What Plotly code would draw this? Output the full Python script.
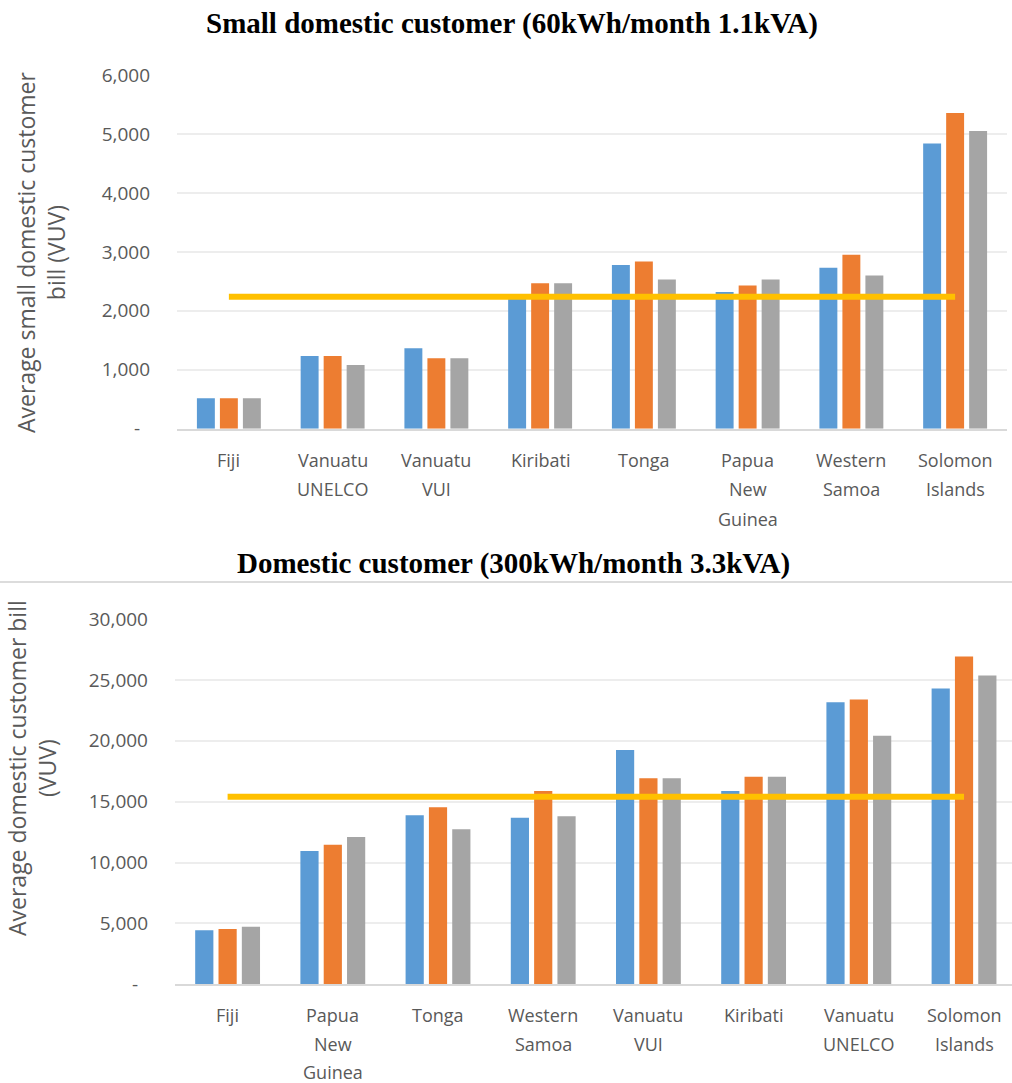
import plotly.graph_objects as go

# ---- Small domestic customer (60kWh/month 1.1kVA) ----
small_categories = ["Fiji", "Vanuatu UNELCO", "Vanuatu VUI", "Kiribati", "Tonga",
                    "Papua New Guinea", "Western Samoa", "Solomon Islands"]
small_labels = [["Fiji"], ["Vanuatu", "UNELCO"], ["Vanuatu", "VUI"], ["Kiribati"], ["Tonga"],
                ["Papua", "New", "Guinea"], ["Western", "Samoa"], ["Solomon", "Islands"]]
small_s1 = [515, 1232, 1363, 2200, 2775, 2317, 2729, 4837]
small_s2 = [515, 1232, 1193, 2469, 2837, 2430, 2949, 5356]
small_s3 = [515, 1080, 1193, 2469, 2532, 2532, 2600, 5051]
small_average = 2240
small_tickvals = [0, 1000, 2000, 3000, 4000, 5000, 6000]
small_ticktext = ["-\u00a0\u00a0", "1,000", "2,000", "3,000", "4,000", "5,000", "6,000"]

# ---- Domestic customer (300kWh/month 3.3kVA) ----
dom_categories = ["Fiji", "Papua New Guinea", "Tonga", "Western Samoa", "Vanuatu VUI",
                  "Kiribati", "Vanuatu UNELCO", "Solomon Islands"]
dom_labels = [["Fiji"], ["Papua", "New", "Guinea"], ["Tonga"], ["Western", "Samoa"],
              ["Vanuatu", "VUI"], ["Kiribati"], ["Vanuatu", "UNELCO"], ["Solomon", "Islands"]]
dom_s1 = [4433, 10944, 13875, 13679, 19236, 15870, 23153, 24302]
dom_s2 = [4540, 11461, 14532, 15870, 16913, 17044, 23399, 26929]
dom_s3 = [4730, 12094, 12726, 13793, 16913, 17044, 20411, 25369]
dom_average = 15400
dom_tickvals = [0, 5000, 10000, 15000, 20000, 25000, 30000]
dom_ticktext = ["-\u00a0\u00a0", "5,000", "10,000", "15,000", "20,000", "25,000", "30,000"]

series_names = ["Series 1", "Series 2", "Series 3"]
series_colors = ["#5B9BD5", "#ED7D31", "#A5A5A5"]
avg_color = "#FFC000"

W, H = 1012, 1083
TICK_FONT = dict(family="Open Sans", size=19, color="#595959")
CAT_FONT = dict(family="Open Sans", size=18, color="#595959")
TITLE_FONT = dict(family="Liberation Serif", size=29, color="#000000")
YT_FONT = dict(family="Open Sans", size=23, color="#595959")


def py(px):
    """Convert a pixel row (from top) to paper coordinates."""
    return 1 - px / H


def px_(x):
    return x / W


fig = go.Figure()

# top chart bars + average line
for name, vals, col in zip(series_names, [small_s1, small_s2, small_s3], series_colors):
    fig.add_trace(go.Bar(x=small_categories, y=vals, name=name, marker_color=col,
                         marker_line_width=0, xaxis="x", yaxis="y", showlegend=False))
fig.add_trace(go.Scatter(x=[small_categories[0], small_categories[-1]],
                         y=[small_average, small_average], mode="lines",
                         line=dict(color=avg_color, width=6), name="Average",
                         xaxis="x", yaxis="y", showlegend=False))

# bottom chart bars + average line
for name, vals, col in zip(series_names, [dom_s1, dom_s2, dom_s3], series_colors):
    fig.add_trace(go.Bar(x=dom_categories, y=vals, name=name, marker_color=col,
                         marker_line_width=0, xaxis="x2", yaxis="y2", showlegend=False))
fig.add_trace(go.Scatter(x=[dom_categories[0], dom_categories[-1]],
                         y=[dom_average, dom_average], mode="lines",
                         line=dict(color=avg_color, width=6), name="Average",
                         xaxis="x2", yaxis="y2", showlegend=False))

common_x = dict(type="category", showgrid=False, showline=True, linecolor="#D9D9D9",
                linewidth=2, ticks="", showticklabels=False, automargin=False,
                zeroline=False, fixedrange=True)
common_y = dict(showgrid=True, gridcolor="#EDEDED", gridwidth=2, showline=False,
                zeroline=False, ticks="", tickfont=TICK_FONT, ticklabelstandoff=26,
                automargin=False, fixedrange=True)

TOP_BASE, BOT_BASE = 428.7, 984.3

fig.update_layout(
    width=W, height=H,
    margin=dict(l=0, r=0, t=0, b=0, autoexpand=False),
    paper_bgcolor="white", plot_bgcolor="white",
    barmode="group", bargap=0.335, bargroupgap=0.22,
    showlegend=False,
    xaxis=dict(common_x, domain=[px_(177), px_(1007)], range=[-0.5, 7.5], anchor="y"),
    yaxis=dict(common_y, domain=[py(TOP_BASE), py(75)], range=[0, 6000],
               tickvals=small_tickvals, ticktext=small_ticktext, anchor="x"),
    xaxis2=dict(common_x, domain=[px_(175), 1.0], range=[-0.5, 7.456], anchor="y2"),
    yaxis2=dict(common_y, domain=[py(BOT_BASE), py(619)], range=[0, 30000],
                tickvals=dom_tickvals, ticktext=dom_ticktext, anchor="x2"),
)

# category labels, one line at a time for Excel-like line spacing
for xref, base, step, cats, labels in [("x", TOP_BASE, 29.5, small_categories, small_labels),
                                       ("x2", BOT_BASE, 28.5, dom_categories, dom_labels)]:
    for cat, lines in zip(cats, labels):
        for j, line in enumerate(lines):
            fig.add_annotation(text=line, xref=xref, yref="paper", x=cat,
                               y=py(base + 31 + step * j), showarrow=False,
                               font=CAT_FONT, xanchor="center", yanchor="middle")

# chart titles
fig.add_annotation(text="<b>Small domestic customer (60kWh/month 1.1kVA)</b>",
                   xref="paper", yref="paper", x=px_(512), y=py(23),
                   showarrow=False, font=TITLE_FONT, xanchor="center", yanchor="middle")
fig.add_annotation(text="<b>Domestic customer (300kWh/month 3.3kVA)</b>",
                   xref="paper", yref="paper", x=px_(513), y=py(563),
                   showarrow=False, font=TITLE_FONT, xanchor="center", yanchor="middle")

# y-axis titles
fig.add_annotation(text="Average small domestic customer<br>bill (VUV)",
                   xref="paper", yref="paper", x=px_(41), y=py(252),
                   showarrow=False, textangle=-90, font=YT_FONT,
                   xanchor="center", yanchor="middle")
fig.add_annotation(text="Average domestic customer bill<br>(VUV)",
                   xref="paper", yref="paper", x=px_(32), y=py(768),
                   showarrow=False, textangle=-90, font=YT_FONT,
                   xanchor="center", yanchor="middle")

# thin separator above the second chart
fig.add_shape(type="line", xref="paper", yref="paper", x0=0, x1=1,
              y0=py(582), y1=py(582), line=dict(color="#D0D0D0", width=1.5))

fig.write_html("out.html")
